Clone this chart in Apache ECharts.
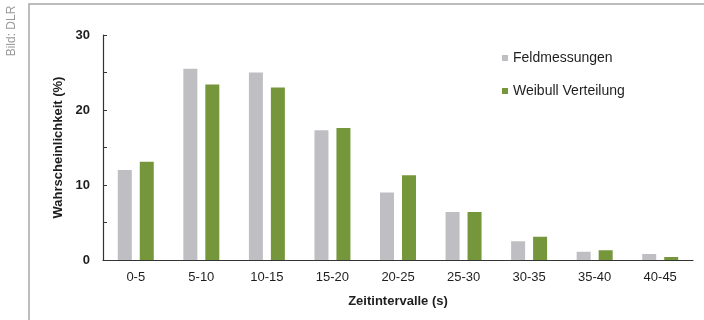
<!DOCTYPE html>
<html>
<head>
<meta charset="utf-8">
<script src="https://cdn.jsdelivr.net/npm/echarts@6/dist/echarts.min.js"></script>
<style>
  html, body { margin: 0; padding: 0; background: #fff; }
  #chart { width: 704px; height: 320px; }
</style>
</head>
<body>
<div id="chart"></div>
<script>
const categories = ['0-5', '5-10', '10-15', '15-20', '20-25', '25-30', '30-35', '35-40', '40-45'];
const feldmessungen = [12.0, 25.5, 25.0, 17.3, 9.0, 6.4, 2.5, 1.1, 0.8];
const weibull = [13.1, 23.4, 23.0, 17.6, 11.3, 6.4, 3.1, 1.3, 0.4];

const font = 'Liberation Sans, Arial, sans-serif';

document.addEventListener('DOMContentLoaded', () => {
    echarts.init(document.querySelector('#chart')).setOption({
        animation: false,
        textStyle: { fontFamily: font },
        graphic: [
            {
                type: 'rect',
                shape: { x: 29, y: 4, width: 720, height: 340 },
                style: { fill: 'none', stroke: '#a8a8a8', lineWidth: 1.5 }
            },
            {
                type: 'text',
                x: 12,
                y: 31,
                rotation: Math.PI / 2,
                style: {
                    text: 'Bild: DLR',
                    fill: '#999',
                    font: '12px ' + font,
                    align: 'center',
                    verticalAlign: 'middle'
                }
            }
        ],
        grid: { left: 103, right: 11, top: 35, bottom: 60 },
        legend: {
            orient: 'vertical',
            left: 497,
            top: 46,
            itemWidth: 6,
            itemHeight: 6,
            itemGap: 19,
            icon: 'rect',
            textStyle: { fontSize: 14, color: '#1e1e1e', fontFamily: font }
        },
        xAxis: {
            type: 'category',
            data: categories,
            name: 'Zeitintervalle (s)',
            nameLocation: 'middle',
            nameGap: 35,
            nameTextStyle: { fontSize: 13, fontWeight: 'bold', color: '#1e1e1e' },
            axisLine: { lineStyle: { color: '#333', width: 1.2 } },
            axisTick: { inside: true, length: 4, lineStyle: { color: '#333' } },
            axisLabel: { fontSize: 13, color: '#1e1e1e', margin: 11 }
        },
        yAxis: {
            type: 'value',
            min: 0,
            max: 30,
            interval: 5,
            name: 'Wahrscheinlichkeit (%)',
            nameLocation: 'middle',
            nameGap: 38,
            nameTextStyle: { fontSize: 13, fontWeight: 'bold', color: '#1e1e1e' },
            splitLine: { show: false },
            axisLine: { show: true, lineStyle: { color: '#333', width: 1.2 } },
            axisTick: { show: true, inside: true, length: 4, lineStyle: { color: '#333' } },
            axisLabel: {
                fontSize: 13,
                fontWeight: 'bold',
                color: '#1e1e1e',
                margin: 13,
                formatter: v => (v % 10 === 0 ? v : '')
            }
        },
        series: [
            {
                name: 'Feldmessungen',
                type: 'bar',
                data: feldmessungen,
                barWidth: 14,
                barGap: '57%',
                itemStyle: { color: '#bfbfc3' }
            },
            {
                name: 'Weibull Verteilung',
                type: 'bar',
                data: weibull,
                barWidth: 14,
                barGap: '57%',
                itemStyle: { color: '#76963c' }
            }
        ]
    });
});
</script>
</body>
</html>
